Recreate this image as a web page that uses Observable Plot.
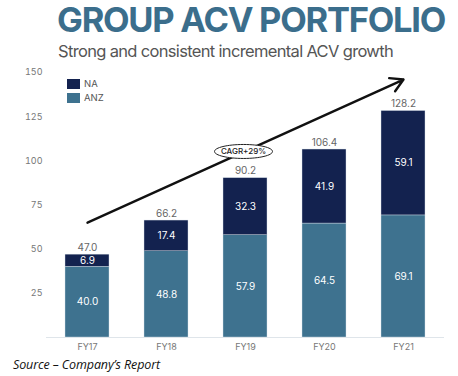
<!DOCTYPE html>
<html>
<head>
<meta charset="utf-8">
<script src="https://cdn.jsdelivr.net/npm/d3@7"></script>
<script src="https://cdn.jsdelivr.net/npm/@observablehq/plot@0.6"></script>
<style>
  html, body { margin: 0; padding: 0; background: #fff; }
  #wrap { position: relative; width: 458px; height: 376px; overflow: hidden; font-family: Inter, sans-serif; }
  .abs { position: absolute; white-space: nowrap; line-height: 1; }
  #title { left: 57px; top: 3px; font-size: 34.5px; font-weight: 700; color: #3b6e8c; }
  #subtitle { left: 58px; top: 42.5px; font-size: 16.5px; color: #555; }
  #caption { left: 13px; top: 359px; font-size: 12.5px; font-style: italic; color: #111; font-family: "Open Sans", sans-serif; }
  #chart { position: absolute; left: 0; top: 58px; }
  .leg { position: absolute; left: 67px; font-size: 9.5px; color: #555; display: flex; align-items: center; }
  .sw { width: 13px; height: 10px; margin-right: 4px; display: inline-block; }
</style>
</head>
<body>
<div id="wrap">
  <div id="title" class="abs">GROUP ACV PORTFOLIO</div>
  <div id="subtitle" class="abs">Strong and consistent incremental ACV growth</div>
  <div id="chart"></div>
  <div id="legend"></div>
  <div id="caption" class="abs">Source – Company’s Report</div>
</div>
<script>
// ---- data ----
const years = ["FY17", "FY18", "FY19", "FY20", "FY21"];
const anzValues = [40.0, 48.8, 57.9, 64.5, 69.1];
const naValues = [6.9, 17.4, 32.3, 41.9, 59.1];
const totals = [47.0, 66.2, 90.2, 106.4, 128.2];
const seriesNames = ["NA", "ANZ"];
const seriesColors = ["#13224f", "#3e728f"];
const yTicks = [25, 50, 75, 100, 125, 150];
const arrowFrom = ["FY17", 65];
const arrowTo = ["FY21", 146];
const cagrText = "CAGR+29%";
const cagrAt = ["FY19", 105.3];

// ---- table ----
const rows = [];
years.forEach((yr, i) => rows.push({year: yr, series: "ANZ", value: anzValues[i]}));
years.forEach((yr, i) => rows.push({year: yr, series: "NA", value: naValues[i]}));
const totalRows = years.map((yr, i) => ({year: yr, total: totals[i]}));

const ellipse = {
  draw(ctx) {
    const a = 29, b = 7, k = 0.5523;
    ctx.moveTo(a, 0);
    ctx.bezierCurveTo(a, b * k, a * k, b, 0, b);
    ctx.bezierCurveTo(-a * k, b, -a, b * k, -a, 0);
    ctx.bezierCurveTo(-a, -b * k, -a * k, -b, 0, -b);
    ctx.bezierCurveTo(a * k, -b, a, -b * k, a, 0);
    ctx.closePath();
  }
};

const plot = Plot.plot({
  width: 458,
  height: 296,
  marginLeft: 46,
  marginRight: 14,
  marginTop: 14,
  marginBottom: 17,
  style: {fontFamily: "Inter, sans-serif", fontSize: "9px", color: "#777", background: "transparent"},
  x: {type: "band", domain: years, paddingInner: 0.447, paddingOuter: 0.2235, tickSize: 0, tickPadding: 6, label: null},
  y: {domain: [0, 150], ticks: yTicks, tickSize: 0, tickPadding: 4, label: null},
  color: {domain: seriesNames, range: seriesColors},
  marks: [
    Plot.barY(rows, {x: "year", y: "value", fill: "series", stroke: "#d8e0e8", strokeWidth: 0.4}),
    Plot.ruleY([0], {stroke: "#dfe5ea", strokeWidth: 1}),
    Plot.text(rows, Plot.stackY({x: "year", y: "value", z: "series", text: d => d.value.toFixed(1), fill: "white", fontSize: 10})),
    Plot.text(totalRows, {x: "year", y: "total", text: d => d.total.toFixed(1), dy: -7, fill: "#666", fontSize: 10}),
    Plot.arrow([{x1: arrowFrom[0], y1: arrowFrom[1], x2: arrowTo[0], y2: arrowTo[1]}], {x1: "x1", y1: "y1", x2: "x2", y2: "y2", stroke: "#111", strokeWidth: 2.4, headLength: 9}),
    Plot.dot([{x: cagrAt[0], y: cagrAt[1]}], {x: "x", y: "y", dx: -2, symbol: ellipse, fill: "white", stroke: "#222", strokeWidth: 1}),
    Plot.text([{x: cagrAt[0], y: cagrAt[1], t: cagrText}], {x: "x", y: "y", dx: -2, text: "t", fill: "#222", fontSize: 8, fontWeight: 500, letterSpacing: "-0.2px"})
  ]
});
document.getElementById("chart").appendChild(plot);

// legend
const legend = document.getElementById("legend");
seriesNames.forEach((s, i) => {
  const d = document.createElement("div");
  d.className = "leg";
  d.style.top = (78 + i * 14) + "px";
  d.innerHTML = `<span class="sw" style="background:${seriesColors[i]}"></span>${s}`;
  legend.appendChild(d);
});

// fit text widths
function fit(id, target) {
  const el = document.getElementById(id);
  const w = el.getBoundingClientRect().width;
  const n = el.textContent.length;
  el.style.letterSpacing = ((target - w) / n) + "px";
}
fit("title", 388);
fit("subtitle", 335);
fit("caption", 147);
</script>
</body>
</html>
